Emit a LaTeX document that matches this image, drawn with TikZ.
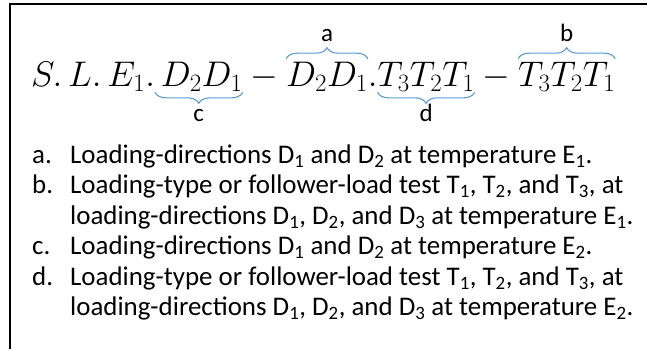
\documentclass[tikz,border=0pt]{standalone}
\usepackage{fix-cm}
\usepackage{amsmath}
\usepackage[no-math]{fontspec}
\setmainfont{Carlito}
\usetikzlibrary{positioning}
\usetikzlibrary{decorations.pathreplacing}
\definecolor{braceblue}{RGB}{91,155,213}

\tikzset{
  term/.style={inner sep=0pt, outer sep=0pt, anchor=base west,
    font=\fontsize{35.6}{40}\selectfont},
  brc/.style={draw=braceblue, line width=1.1pt,
    decorate, decoration={brace, amplitude=11pt}},
  brcdown/.style={brc, decoration={brace, amplitude=11pt, mirror}},
  tag/.style={inner sep=0pt, anchor=base, font=\fontsize{25}{28}\selectfont},
  item/.style={inner sep=0pt, anchor=base west, font=\fontsize{26.9}{30}\selectfont},
}

\begin{document}
\begin{tikzpicture}[x=1pt, y=-1pt]
\useasboundingbox (0,0) rectangle (647,349);
\draw[line width=1.6pt] (10,349) -- (10,4) -- (647,4);
% the code
\node[term] (sle) at (31,86) {$S.\,L.\,E_1.$};
\node[term] (dd1) at (sle.base east) {$\,D_2D_1$};
\node[term] (min1) at (dd1.base east) {${}-{}$};
\node[term] (dd2) at (min1.base east) {$D_2D_1$};
\node[term] (dot) at (dd2.base east) {$.$};
\node[term] (tt1) at (dot.base east) {$T_3T_2T_1$};
\node[term] (min2) at (tt1.base east) {${}-{}$};
\node[term] (tt2) at (min2.base east) {$T_3T_2T_1$};
% braces over and under
\draw[brc] ([yshift=3pt]dd2.north west) -- ([yshift=3pt]dd2.north east);
\draw[brc] ([yshift=3pt]tt2.north west) -- ([yshift=3pt]tt2.north east);
\draw[brcdown] ([yshift=-1pt]dd1.south west) -- ([yshift=-1pt]dd1.south east);
\draw[brcdown] ([yshift=-1pt]tt1.south west) -- ([yshift=-1pt]tt1.south east);
\node[tag] (ta) at ([yshift=20pt]dd2.north) {a};
\node[tag] (tb) at ([yshift=20pt]tt2.north) {b};
\node[tag] (tc) at ([yshift=-35pt]dd1.base) {c};
\node[tag] (td) at ([yshift=-35pt]tt1.base) {d};
% legend
\node[item] (ia) at (32,163) {a.};
\node[item] (la) at (70,163) {Loading-directions D\textsubscript{1} and D\textsubscript{2} at temperature E\textsubscript{1}.};
\node[item] (ib) at (32,193.5) {b.};
\node[item] (lb) at (70,193.5) {Loading-type or follower-load test T\textsubscript{1}, T\textsubscript{2}, and T\textsubscript{3}, at};
\node[item] (lb2) at (70,224) {loading-directions D\textsubscript{1}, D\textsubscript{2}, and D\textsubscript{3} at temperature E\textsubscript{1}.};
\node[item] (ic) at (32,254.5) {c.};
\node[item] (lc) at (70,254.5) {Loading-directions D\textsubscript{1} and D\textsubscript{2} at temperature E\textsubscript{2}.};
\node[item] (id) at (32,285) {d.};
\node[item] (ld) at (70,285) {Loading-type or follower-load test T\textsubscript{1}, T\textsubscript{2}, and T\textsubscript{3}, at};
\node[item] (ld2) at (70,315.5) {loading-directions D\textsubscript{1}, D\textsubscript{2}, and D\textsubscript{3} at temperature E\textsubscript{2}.};
\end{tikzpicture}
\end{document}
